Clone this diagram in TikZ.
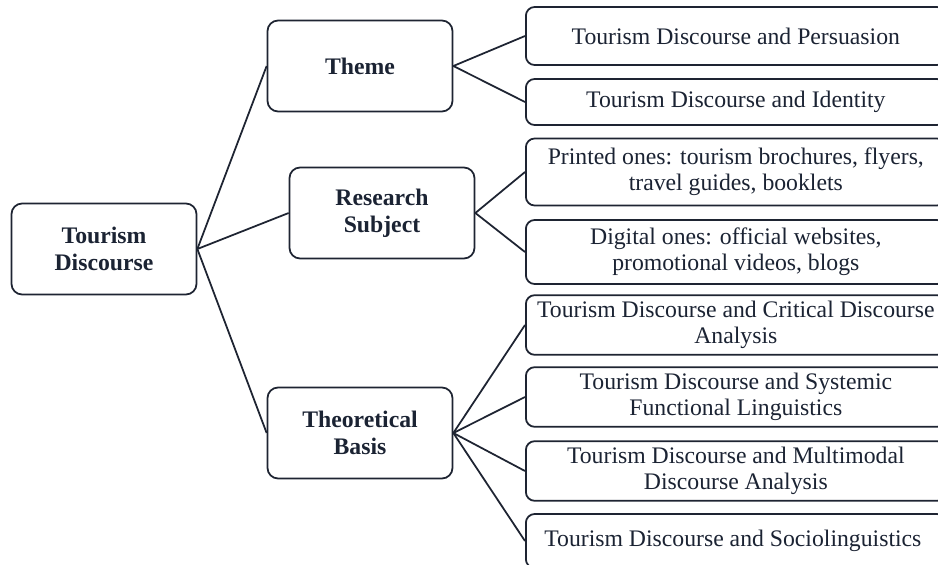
\documentclass[tikz,border=0pt]{standalone}
\usepackage{fontspec}
\setmainfont{Liberation Serif}
\usetikzlibrary{positioning}
\definecolor{linec}{HTML}{1E2432}
\definecolor{txt}{HTML}{1B2333}

\begin{document}
\begin{tikzpicture}
		[x=0.02cm, y=-0.02cm,
		hub/.style = {draw=linec, rectangle, rounded corners=6pt, line width=1pt, minimum width=3.7cm, minimum height=1.82cm, align=center, text=txt, font=\fontsize{13.5pt}{15.5pt}\selectfont\bfseries},
		leaf/.style = {draw=linec, rectangle, rounded corners=5pt, line width=1pt, anchor=west, minimum width=8.4cm, align=center, text=txt, font=\fontsize{13.5pt}{15pt}\selectfont},
		link/.style = {draw=linec, line width=1pt}]
		
		\clip (0,0) rectangle (938,565);
		\fill[white] (0,0) rectangle (938,565);
		
		\node[hub] (td) at (104,249) {Tourism\\Discourse};
		\node[hub] (theme) at (360,66) {Theme};
		\node[hub] (rs) at (382,213) {Research\\Subject};
		\node[hub] (tb) at (360,433) {Theoretical\\Basis};
		
		\foreach \y/\h/\alph/\name in {
			36/58/l1/{Tourism Discourse and Persuasion},
			102/46/l2/{Tourism Discourse and Identity},
			172/67/l3/{Printed ones: tourism brochures, flyers,\\travel guides, booklets},
			252/64/l4/{Digital ones: official websites,\\promotional videos, blogs},
			325/57/l5/{Tourism Discourse and Critical Discourse\\Analysis},
			397/59/l6/{Tourism Discourse and Systemic\\Functional Linguistics},
			471/57/l7/{Tourism Discourse and Multimodal\\Discourse Analysis},
			541/54/l8/{Tourism Discourse and Sociolinguistics}
		}{
			\node[leaf, minimum height=\h*0.02cm] (\alph) at (525,\y) {\name};
		}
		
		\foreach \target in {theme, rs, tb}{
			\draw[link] (td.east) -- (\target.west);}
		\foreach \target in {l1, l2}{
			\draw[link] (theme.east) -- (\target.west);}
		\foreach \target in {l3, l4}{
			\draw[link] (rs.east) -- (\target.west);}
		\foreach \target in {l5, l6, l7, l8}{
			\draw[link] (tb.east) -- (\target.west);}
	\end{tikzpicture}
\end{document}
